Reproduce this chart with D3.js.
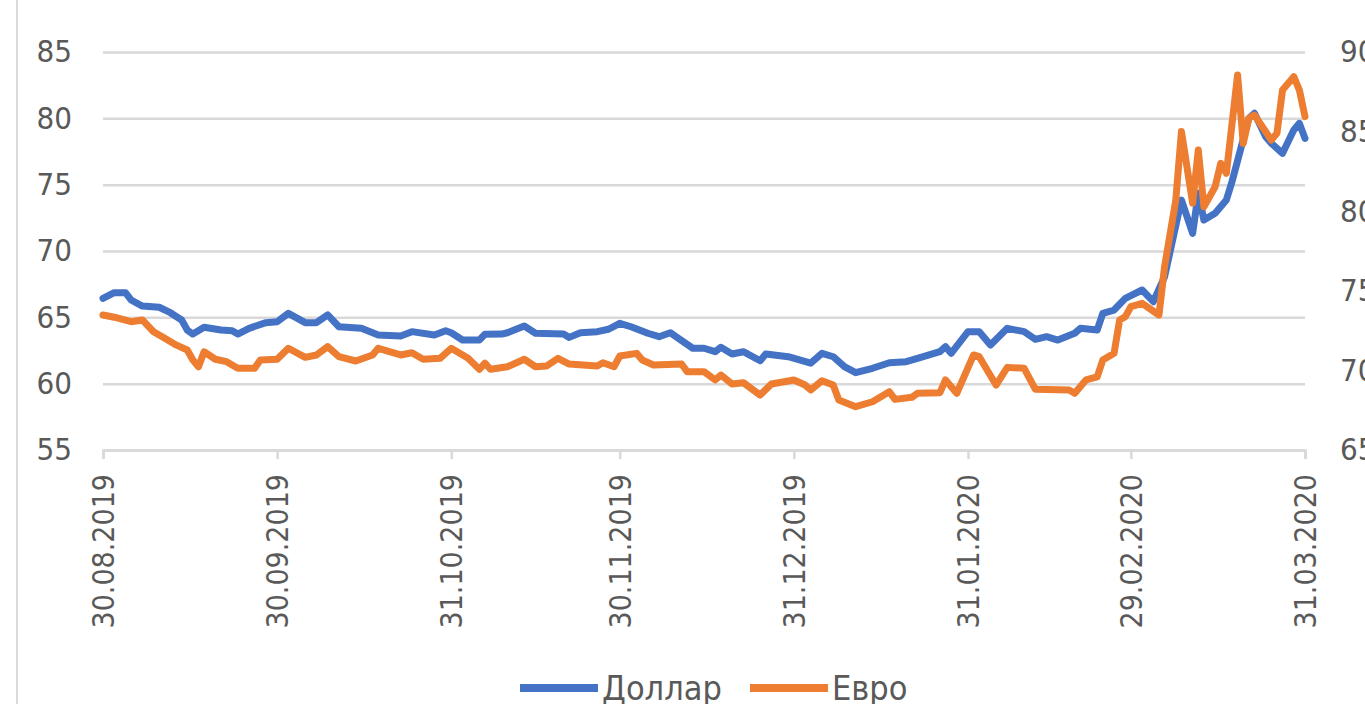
<!DOCTYPE html>
<html>
<head>
<meta charset="utf-8">
<script src="https://cdn.jsdelivr.net/npm/d3@7/dist/d3.min.js"></script>
<style>
    body { margin: 0; background: #fff; }
    svg text { font-family: "Liberation Sans Narrow", "DejaVu Sans Condensed", Roboto, sans-serif; fill: #595959; }
</style>
</head>
<body>
<svg id="grafica" width="1365" height="704"></svg>
<script>
// курс доллара (левая ось)
usdDates = ['30.08.2019', '01.09.2019', '03.09.2019', '04.09.2019', '06.09.2019', '09.09.2019', '11.09.2019', '13.09.2019', '14.09.2019', '15.09.2019',
    '17.09.2019', '20.09.2019', '22.09.2019', '23.09.2019', '25.09.2019', '28.09.2019', '30.09.2019', '02.10.2019', '05.10.2019', '07.10.2019',
    '09.10.2019', '11.10.2019', '15.10.2019', '18.10.2019', '22.10.2019', '24.10.2019', '28.10.2019', '30.10.2019', '31.10.2019', '02.11.2019',
    '05.11.2019', '06.11.2019', '09.11.2019', '10.11.2019', '13.11.2019', '15.11.2019', '20.11.2019', '21.11.2019', '23.11.2019', '26.11.2019',
    '28.11.2019', '30.11.2019', '02.12.2019', '05.12.2019', '07.12.2019', '09.12.2019', '10.12.2019', '13.12.2019', '15.12.2019', '17.12.2019',
    '18.12.2019', '20.12.2019', '22.12.2019', '25.12.2019', '26.12.2019', '30.12.2019', '03.01.2020', '05.01.2020', '07.01.2020', '09.01.2020',
    '11.01.2020', '14.01.2020', '17.01.2020', '20.01.2020', '22.01.2020', '26.01.2020', '27.01.2020', '28.01.2020', '31.01.2020', '02.02.2020',
    '04.02.2020', '07.02.2020', '10.02.2020', '12.02.2020', '14.02.2020', '16.02.2020', '19.02.2020', '20.02.2020', '23.02.2020', '24.02.2020',
    '26.02.2020', '28.02.2020', '02.03.2020', '04.03.2020', '06.03.2020', '09.03.2020', '11.03.2020', '12.03.2020', '13.03.2020', '15.03.2020',
    '17.03.2020', '18.03.2020', '21.03.2020', '22.03.2020', '24.03.2020', '25.03.2020', '27.03.2020', '29.03.2020', '30.03.2020', '31.03.2020']
usdRates = [66.43, 66.86, 66.86, 66.31, 65.85, 65.76, 65.35, 64.80, 64.04, 63.74,
    64.25, 64.04, 63.99, 63.74, 64.17, 64.60, 64.67, 65.30, 64.60, 64.60,
    65.18, 64.29, 64.17, 63.67, 63.59, 63.92, 63.67, 63.99, 63.84, 63.29,
    63.29, 63.72, 63.74, 63.84, 64.35, 63.80, 63.74, 63.49, 63.84, 63.92,
    64.10, 64.55, 64.29, 63.80, 63.54, 63.84, 63.54, 62.67, 62.67, 62.41,
    62.74, 62.24, 62.41, 61.73, 62.24, 62.03, 61.54, 62.29, 62.03, 61.28,
    60.83, 61.16, 61.58, 61.66, 61.91, 62.41, 62.79, 62.29, 63.92, 63.92,
    62.91, 64.17, 63.92, 63.34, 63.54, 63.29, 63.80, 64.17, 64.04, 65.30,
    65.55, 66.43, 67.06, 66.18, 68.06, 73.84, 71.33, 74.35, 72.34, 72.84,
    73.84, 75.22, 80.00, 80.38, 78.62, 78.12, 77.36, 79.12, 79.62, 78.49]

// курс евро (правая ось)
eurDates = ['30.08.2019', '01.09.2019', '04.09.2019', '06.09.2019', '08.09.2019', '10.09.2019', '12.09.2019', '14.09.2019', '15.09.2019', '16.09.2019',
    '17.09.2019', '19.09.2019', '21.09.2019', '23.09.2019', '26.09.2019', '27.09.2019', '30.09.2019', '02.10.2019', '05.10.2019', '07.10.2019',
    '09.10.2019', '11.10.2019', '14.10.2019', '17.10.2019', '18.10.2019', '22.10.2019', '24.10.2019', '26.10.2019', '29.10.2019', '31.10.2019',
    '03.11.2019', '05.11.2019', '06.11.2019', '07.11.2019', '10.11.2019', '13.11.2019', '15.11.2019', '17.11.2019', '19.11.2019', '21.11.2019',
    '26.11.2019', '27.11.2019', '29.11.2019', '30.11.2019', '03.12.2019', '04.12.2019', '06.12.2019', '11.12.2019', '12.12.2019', '15.12.2019',
    '17.12.2019', '18.12.2019', '20.12.2019', '22.12.2019', '25.12.2019', '27.12.2019', '31.12.2019', '02.01.2020', '03.01.2020', '05.01.2020',
    '07.01.2020', '08.01.2020', '11.01.2020', '14.01.2020', '17.01.2020', '18.01.2020', '21.01.2020', '22.01.2020', '26.01.2020', '27.01.2020',
    '29.01.2020', '01.02.2020', '02.02.2020', '05.02.2020', '07.02.2020', '10.02.2020', '12.02.2020', '18.02.2020', '19.02.2020', '21.02.2020',
    '23.02.2020', '24.02.2020', '26.02.2020', '27.02.2020', '28.02.2020', '29.02.2020', '02.03.2020', '05.03.2020', '06.03.2020', '08.03.2020',
    '09.03.2020', '11.03.2020', '12.03.2020', '13.03.2020', '15.03.2020', '16.03.2020', '17.03.2020', '19.03.2020', '20.03.2020', '21.03.2020',
    '22.03.2020', '25.03.2020', '26.03.2020', '27.03.2020', '29.03.2020', '30.03.2020', '31.03.2020']
eurRates = [73.48, 73.34, 73.06, 73.17, 72.43, 72.02, 71.60, 71.28, 70.65, 70.23,
    71.17, 70.70, 70.55, 70.13, 70.13, 70.65, 70.70, 71.39, 70.82, 70.97,
    71.49, 70.86, 70.59, 70.97, 71.39, 70.97, 71.11, 70.70, 70.76, 71.39,
    70.76, 70.07, 70.45, 70.07, 70.23, 70.70, 70.23, 70.28, 70.76, 70.40,
    70.28, 70.48, 70.23, 70.90, 71.07, 70.65, 70.34, 70.40, 69.92, 69.92,
    69.40, 69.71, 69.15, 69.23, 68.45, 69.15, 69.40, 69.08, 68.77, 69.35,
    69.08, 68.14, 67.72, 68.03, 68.66, 68.18, 68.31, 68.56, 68.60, 69.40,
    68.56, 70.97, 70.86, 69.08, 70.19, 70.13, 68.81, 68.77, 68.56, 69.40,
    69.60, 70.65, 71.07, 73.17, 73.37, 74.00, 74.21, 73.48, 76.51, 80.70,
    85.00, 80.50, 83.84, 80.28, 81.54, 83.01, 82.38, 88.56, 84.26, 85.84,
    86.04, 84.47, 84.89, 87.61, 88.45, 87.61, 85.94]

leftTicks = [55, 60, 65, 70, 75, 80, 85]
rightTicks = [65, 70, 75, 80, 85, 90]
xTickLabels = ['30.08.2019', '30.09.2019', '31.10.2019', '30.11.2019', '31.12.2019', '31.01.2020', '29.02.2020', '31.03.2020']
seriesNames = ['Доллар', 'Евро']
colores = { 'Доллар': '#4472C4', 'Евро': '#ED7D31' }

parseDate = d3.timeParse('%d.%m.%Y')

function graficar() {
    var svg = d3.select('#grafica')
    var margin = { left: 103, right: 1305, top: 52, bottom: 450 }

    // рамка диаграммы слева
    svg.append('line')
        .attr('x1', 17).attr('x2', 17)
        .attr('y1', 0).attr('y2', 704)
        .attr('stroke', '#d9d9d9')
        .attr('stroke-width', 2)

    var x = d3.scaleTime()
        .domain([parseDate(xTickLabels[0]), parseDate(xTickLabels[xTickLabels.length - 1])])
        .range([margin.left, margin.right])
    var yL = d3.scaleLinear().domain([55, 85]).range([margin.bottom, margin.top])
    var yR = d3.scaleLinear().domain([65, 90]).range([margin.bottom, margin.top])

    // сетка
    svg.append('g')
        .attr('transform', 'translate(' + margin.left + ',0)')
        .call(d3.axisLeft(yL).tickValues(leftTicks).tickSize(-(margin.right - margin.left)).tickFormat(''))
        .call(function (g) { g.select('.domain').remove() })
        .selectAll('line')
        .attr('stroke', '#d9d9d9')
        .attr('stroke-width', 2.5)

    svg.append('g')
        .attr('transform', 'translate(' + margin.left + ',0)')
        .call(d3.axisLeft(yL).tickValues(leftTicks).tickSize(0).tickPadding(31))
        .call(function (g) { g.select('.domain').remove() })
        .selectAll('text')
        .style('font-size', '31px')

    svg.append('g')
        .attr('transform', 'translate(' + margin.right + ',0)')
        .call(d3.axisRight(yR).tickValues(rightTicks).tickSize(0).tickPadding(35))
        .call(function (g) { g.select('.domain').remove() })
        .selectAll('text')
        .style('font-size', '31px')

    var xAxis = svg.append('g')
        .attr('transform', 'translate(0,' + margin.bottom + ')')
        .call(d3.axisBottom(x)
            .tickValues(xTickLabels.map(parseDate))
            .tickFormat(d3.timeFormat('%d.%m.%Y'))
            .tickSizeOuter(0)
            .tickSize(9))
    xAxis.select('.domain').attr('stroke', '#d9d9d9').attr('stroke-width', 2.5)
    xAxis.selectAll('line').attr('stroke', '#d9d9d9').attr('stroke-width', 2.5)
    xAxis.selectAll('text')
        .attr('transform', 'rotate(-90)')
        .attr('x', -24)
        .attr('y', 0)
        .attr('dy', '0.35em')
        .style('text-anchor', 'end')
        .style('font-size', '30px')

    var lineL = d3.line()
        .x(function (d) { return x(d.date) })
        .y(function (d) { return yL(d.value) })
    var lineR = d3.line()
        .x(function (d) { return x(d.date) })
        .y(function (d) { return yR(d.value) })

    var usd = usdDates.map(function (d, i) { return { date: parseDate(d), value: usdRates[i] } })
    var eur = eurDates.map(function (d, i) { return { date: parseDate(d), value: eurRates[i] } })

    svg.append('path')
        .datum(usd)
        .attr('d', lineL)
        .attr('fill', 'none')
        .attr('stroke', colores['Доллар'])
        .attr('stroke-width', 7)
        .attr('stroke-linejoin', 'round')
        .attr('stroke-linecap', 'round')

    svg.append('path')
        .datum(eur)
        .attr('d', lineR)
        .attr('fill', 'none')
        .attr('stroke', colores['Евро'])
        .attr('stroke-width', 7)
        .attr('stroke-linejoin', 'round')
        .attr('stroke-linecap', 'round')

    // легенда
    var legend = svg.selectAll('g.leyenda')
        .data(seriesNames)
        .enter()
        .append('g')
        .attr('class', 'leyenda')
        .attr('transform', function (d, i) { return 'translate(' + (520 + i * 230) + ',688)' })

    legend.append('line')
        .attr('x1', 0).attr('x2', 78)
        .attr('stroke', function (d) { return colores[d] })
        .attr('stroke-width', 8)

    legend.append('text')
        .attr('x', 82)
        .attr('dy', '0.35em')
        .style('font-size', '34px')
        .text(function (d) { return d })
}

graficar()
</script>
</body>
</html>
